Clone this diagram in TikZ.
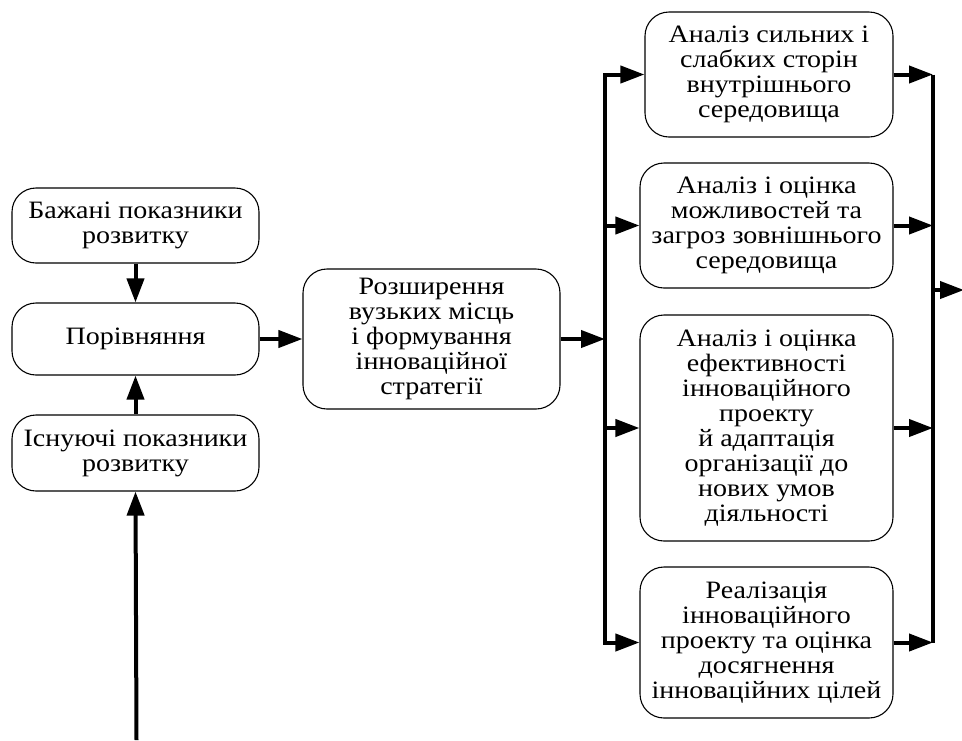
\documentclass[tikz,border=0pt]{standalone}
\usepackage{fontspec}
\setmainfont{Liberation Serif}[FakeStretch=1.12]
\usetikzlibrary{arrows.meta}
\begin{document}
\begin{tikzpicture}[x=1pt,y=-1pt,
  box/.style={draw, line width=1.1pt, rounded corners=24pt, align=center,
    inner sep=0pt, font=\fontsize{25}{25}\selectfont},
  conn/.style={line width=4pt, -{Triangle[length=24pt,width=17pt]}},
  bus/.style={line width=4pt}]
\useasboundingbox (0,0) rectangle (962,740);
\node[box, minimum width=247pt, minimum height=75pt] (b1) at (135.5,225.5) {Бажані показники\\розвитку};
\node[box, minimum width=247pt, minimum height=72pt] (b2) at (135.5,339) {Порівняння};
\node[box, minimum width=247pt, minimum height=76pt] (b3) at (135.5,453) {Існуючі показники\\розвитку};
\node[box, minimum width=257pt, minimum height=140pt] (c) at (431.5,339) {Розширення\\вузьких місць\\і формування\\інноваційної\\стратегії};
\node[box, minimum width=248pt, minimum height=125pt] (ra) at (769,74.5) {Аналіз сильних і\\слабких сторін\\внутрішнього\\середовища};
\node[box, minimum width=253pt, minimum height=125pt] (rb) at (766.5,225.5) {Аналіз і оцінка\\можливостей та\\загроз зовнішнього\\середовища};
\node[box, minimum width=253pt, minimum height=226pt] (rc) at (766.5,428) {Аналіз і оцінка\\ефективності\\інноваційного\\проекту\\ й адаптація\\організації до\\нових умов\\діяльності};
\node[box, minimum width=253pt, minimum height=151pt] (rd) at (766.5,642.5) {Реалізація\\інноваційного\\проекту та оцінка\\досягнення\\інноваційних цілей};
\coordinate (bot) at (136.5,740);
\coordinate (busL) at (605,0);
\coordinate (busR) at (933,0);
\coordinate (out) at (964,290);
% left column
\draw[conn] (b1.south) -- (b2.north);
\draw[conn] (b3.north) -- (b2.south);
\draw[conn] (bot) -- (b3.south);
\draw[conn] (b2.east) -- (c.west);
\draw[conn] (c.east) -- (busL |- c.east);
% left bus
\draw[bus] ([xshift=2pt]busL |- ra.west) -- (busL |- ra.west) -- (busL |- rd.west) -- ([xshift=2pt]busL |- rd.west);
\draw[conn] (busL |- ra.west) -- (ra.west);
\draw[conn] (busL |- rb.west) -- (rb.west);
\draw[conn] (busL |- rc.west) -- (rc.west);
\draw[conn] (busL |- rd.west) -- (rd.west);
% right bus
\draw[bus] (busR |- ra.east) -- (busR |- rd.east);
\draw[conn] (ra.east) -- (busR |- ra.east);
\draw[conn] (rb.east) -- (busR |- rb.east);
\draw[conn] (rc.east) -- (busR |- rc.east);
\draw[conn] (rd.east) -- (busR |- rd.east);
\draw[conn] (busR |- out) -- (out);
\end{tikzpicture}
\end{document}
